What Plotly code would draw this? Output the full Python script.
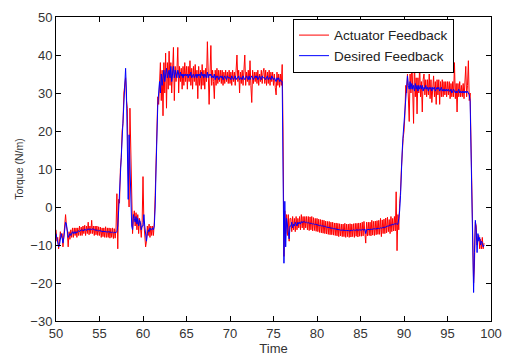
import plotly.graph_objects as go

# sampling: starts at 50 s, one sample every 0.1 s
t_start = 50.0
t_step = 0.1

desired = [
    -7, -8.5, -9.5, -10.5, -10, -8, -7, -8, -9.5, -8,
    -5.5, -4, -4.5, -6, -8, -7.5, -7, -7.5, -7, -6.5,
    -7, -6.5, -7, -6.5, -6.8, -6.5, -6.2, -6.5, -6.3, -6,
    -6.2, -6, -6.3, -5.8, -6, -6.2, -5.8, -6, -5.7, -6,
    -5.8, -6, -5.7, -5.9, -6, -6.1, -6, -6.2, -6.1, -6.3,
    -6.2, -6.3, -6.4, -6.3, -6.5, -6.4, -6.5, -6.6, -6.5, -6.6,
    -6.5, -6.6, -6.7, -6.6, -6.7, -6.6, -6.8, -6.7, -6.8, -6.7,
    -6.5, -5, -1, 4, 9, 14, 19, 24, 29, 33,
    36.5, 30, 20, 2, 19, 8, -3, -5, -6, -2,
    -3, -4, -2.5, -4.5, -3, -5, -3.5, -4, -6, -5,
    -5, -2, -5, -8, -9, -7, -6, -6.5, -5.5, -6,
    -6, -5.5, -6, -5, 0, 10, 20, 27, 30, 33,
    30, 35, 32, 34, 36, 33, 35, 36.5, 34, 35,
    36, 34, 37, 33, 35, 37, 34, 36, 35, 34,
    36, 35, 34, 35.5, 34.5, 35, 34, 35, 34.5, 35,
    34.5, 35, 34, 35, 34.5, 35.5, 34, 34.5, 35, 34,
    34.5, 35, 34, 35, 34.5, 35, 34, 35.5, 34.5, 35,
    34, 35, 34.5, 34, 35.5, 34, 35, 34.5, 35, 34,
    34.5, 34, 35, 33.5, 34.5, 34, 34.5, 33.5, 34, 34.5,
    34, 34.5, 33.5, 34, 34.5, 34, 33.5, 34.5, 34, 34,
    34, 33.5, 34.5, 34, 33.5, 34, 34.5, 33.5, 34, 34,
    34.5, 33.5, 34, 34, 33.5, 34.5, 34, 33.5, 34, 34.5,
    34, 33.5, 34.5, 33.5, 34, 34.5, 34, 33.5, 34, 34.5,
    34, 34.5, 33.5, 34, 34.5, 34, 33.5, 34.5, 34, 34,
    34, 33.5, 34, 34.5, 33.5, 34, 34, 33.5, 34.5, 34,
    33.5, 34, 33.5, 33, 34, 33.5, 34, 33, 33.5, 33,
    33, 15, -14.8, 1.5, -10.5, -3, -5.5, -7, -8.4, -5,
    -5, -4, -5.5, -4.5, -5, -4, -4.5, -5, -4, -4.5,
    -4, -4.5, -3.8, -4.2, -3.8, -4, -3.9, -4.1, -4, -4.2,
    -4.1, -4.3, -4.2, -4.4, -4.3, -4.5, -4.4, -4.6, -4.5, -4.6,
    -4.6, -4.8, -4.7, -4.9, -4.8, -5.0, -4.9, -5.1, -5.0, -5.2,
    -5.2, -5.3, -5.3, -5.4, -5.4, -5.5, -5.5, -5.6, -5.6, -5.7,
    -5.7, -5.8, -5.8, -5.9, -5.9, -6.0, -6.0, -6.1, -6.0, -6.1,
    -6.1, -6.2, -6.1, -6.2, -6.2, -6.1, -6.2, -6.3, -6.2, -6.1,
    -6.1, -6.2, -6.0, -6.1, -6.2, -6.0, -6.1, -6.0, -6.1, -6.0,
    -6.0, -6.1, -5.9, -6.0, -6.1, -5.8, -7, -6.0, -5.9, -6.0,
    -5.9, -6.0, -5.8, -5.9, -5.8, -5.9, -5.7, -5.8, -5.7, -5.8,
    -5.7, -5.6, -5.7, -5.5, -5.6, -5.4, -5.5, -5.3, -5.4, -5.2,
    -5.2, -5, -5.1, -4.8, -4.9, -4.6, -4.8, -4.5, -4.7, -4.4,
    -4.5, -4.3, -4.6, -4.5, -3, -1, 3, 11, 15, 19,
    22, 26, 30, 33, 34.5, 32, 31, 33, 31, 32.5,
    31, 32, 30.5, 32.5, 31, 32, 30.5, 32, 31, 32,
    31, 32, 30.5, 31.5, 31, 32, 31, 31.5, 30.5, 31.5,
    31, 31.5, 30.5, 31.5, 31, 31.5, 30.5, 31, 31.5, 31,
    31.5, 30.5, 31, 31.5, 30.5, 31, 30.5, 31, 30.5, 31,
    30.5, 31, 30.5, 30.5, 31, 30, 30.5, 31, 30.5, 30,
    30.5, 30, 30.5, 31, 30, 30.5, 30, 30.5, 30, 30.5,
    30, 30.5, 30, 30.5, 30, 29.5, 28, 17, 2, -14,
    -22.5, -12, -3.5, -6, -12, -7, -9, -8, -10, -9,
    -9.5, -10.5, -10,
]

actuator = [
    -6, -9, -8, -11, -9, -6.5, -8, -7, -10.5, -7.5,
    -4, -2, -5, -6.5, -10.5, -6.5, -8.5, -6, -8, -5.5,
    -8, -5.5, -7.5, -5.5, -8, -5.5, -7.5, -5, -7.5, -5.3,
    -7.5, -5, -7, -4.8, -7.5, -5, -7, -4, -7.3, -5,
    -7, -3.5, -7, -5, -7.5, -5, -7.3, -5, -7.5, -5.2,
    -7.5, -5.3, -8, -5.5, -7.8, -5.5, -8, -5.2, -8, -5.5,
    -8, -5.5, -8.2, -5.6, -8, -5.5, -8.3, -5.7, -8.2, -5.8,
    3.5, -11, 2, 1, 10, 13, 20, 22, 30, 32,
    34, 28, 26, 8, 0, 26, 12, -4, -7, -3,
    -1, -5, -1.5, -6, -2, -7, -3, -5, -8, -4,
    8, -4, -7, -10.5, -9, -5, -7.5, -4.5, -8, -5,
    -7.5, -5, -7.5, -4, 3, 12, 18, 29, 27, 35,
    38, 28, 36, 24, 38, 30, 40.5, 26, 38, 31,
    41, 32, 38, 30, 36, 42, 28, 37, 33, 36,
    42, 30, 37, 33, 36.5, 31, 37, 32, 38, 33,
    37, 31, 37, 33, 38.5, 32, 36.5, 31, 37, 33,
    37.5, 32, 36, 28.5, 37, 32, 36, 31, 37.5, 32,
    36, 31, 36.5, 33, 43.5, 32, 27, 35, 42.5, 32,
    36, 33, 28.5, 36, 32, 36.5, 32.5, 36, 33, 36,
    32.5, 36, 32, 35.5, 32.5, 36, 33, 35.5, 32.5, 36,
    32.5, 35.5, 32, 36, 33, 35.5, 32, 36, 40, 33,
    36, 30, 35.5, 32.5, 36, 32, 35.5, 40, 32, 35.5,
    33, 36, 32, 38.5, 32, 27.5, 36, 32.5, 35.5, 33,
    35.5, 32.5, 36, 32, 35, 33, 36, 32.5, 35.5, 36.5,
    32.5, 36, 32, 35.5, 32.5, 36, 32, 35.5, 33, 35.5,
    32, 35, 31.5, 29.5, 35.5, 32, 35, 31.5, 35, 32,
    37.5, 20, -13, -1, -7, -2, -7.5, -2, -9, -3,
    -3, -6.5, -2.5, -6, -3, -6.5, -2.5, -6, -3, -5.5,
    -2.5, -6, -2, -5.5, -2.5, -6, -2.5, -5.5, -2.5, -6,
    -2.5, -6.2, -2.6, -6, -2.5, -6.3, -2.8, -6.2, -3, -6.4,
    -3, -6.5, -3.2, -6.7, -3.3, -6.8, -3.4, -6.9, -3.5, -7,
    -3.7, -7.1, -3.8, -7.2, -3.8, -7.3, -4, -7.3, -4, -7.4,
    -4.2, -7.5, -4.2, -7.6, -4.3, -7.8, -4.4, -7.6, -4.5, -7.8,
    -4.5, -7.8, -4.3, -8, -4.5, -7.8, -4.5, -8, -4.4, -7.9,
    -4.5, -7.8, -4.4, -8, -4.3, -7.7, -4.3, -7.9, -4.2, -7.7,
    -4.2, -7.7, -4, -7.6, -3.8, -7.6, -9.5, -4, -7.6, -4,
    -7.5, -4, -7.6, -3.5, -7.4, -3.8, -7.5, -3.7, -7.3, -3.6,
    -7.2, -3.5, -7.2, -3, -7.8, -3.4, -7, -3.2, -7, -2.9,
    -6.8, -2.7, -6.5, -3.3, -7, -2.5, -6.5, -3, -6.3, -2.5,
    -6.3, 4, -11.5, -2, -6, 1, 4, 10, 16, 18,
    20, 24, 32, 30, 35, 29, 22.5, 35, 30, 39.5,
    30, 22, 39, 29, 34, 24.5, 34, 30, 37.5, 29,
    33, 25, 33.5, 35, 29.5, 33.5, 29, 33.5, 29.5, 35,
    28.5, 33.5, 27.5, 33.5, 34.5, 29, 33, 27, 33.5, 29.5,
    33.5, 27, 33, 29, 33.5, 29, 33, 29.5, 33, 29,
    33, 29.5, 33, 28.5, 32.5, 29, 33, 29, 38, 28.5,
    32.5, 25, 32.5, 29, 33, 29, 32, 29, 32.5, 28.5,
    32.5, 37, 29, 32, 38.5, 28, 30, 15, 0, -12,
    -20, -15, -4, -5, -10, -8, -7.5, -11, -8.5, -11,
    -8, -11, -9.5,
]

assert len(desired) == len(actuator)
time = [round(t_start + t_step * i, 2) for i in range(len(desired))]

x_ticks = [50, 55, 60, 65, 70, 75, 80, 85, 90, 95, 100]
y_ticks = [-30, -20, -10, 0, 10, 20, 30, 40, 50]

fig = go.Figure()
fig.add_trace(go.Scatter(x=time, y=actuator, mode="lines", name="Actuator Feedback",
                         line=dict(color="#ff0000", width=1)))
fig.add_trace(go.Scatter(x=time, y=desired, mode="lines", name="Desired Feedback",
                         line=dict(color="#0000ff", width=1)))

axis_common = dict(showline=True, linecolor="black", linewidth=1, mirror="ticks",
                   ticks="inside", ticklen=5, tickcolor="black", showgrid=False,
                   zeroline=False, tickfont=dict(size=13, color="#333"))

fig.update_layout(
    width=512, height=360,
    margin=dict(l=56, r=10, t=14, b=34),
    paper_bgcolor="white", plot_bgcolor="white",
    font=dict(family="Liberation Sans, Arial, sans-serif", size=12, color="#333"),
    xaxis=dict(range=[50, 100], tickvals=x_ticks,
               title=dict(text="Time", standoff=0, font=dict(size=13)), **axis_common),
    yaxis=dict(range=[-30, 50], tickvals=y_ticks,
               title=dict(text="Torque (N/m)", standoff=4, font=dict(size=10.5)), **axis_common),
    showlegend=True,
    legend=dict(x=0.915, xanchor="right", y=0.994, yanchor="top",
                bordercolor="black", borderwidth=1, bgcolor="white",
                font=dict(size=13.5, color="#222"), tracegroupgap=0),
)

fig.write_html("out.html")
